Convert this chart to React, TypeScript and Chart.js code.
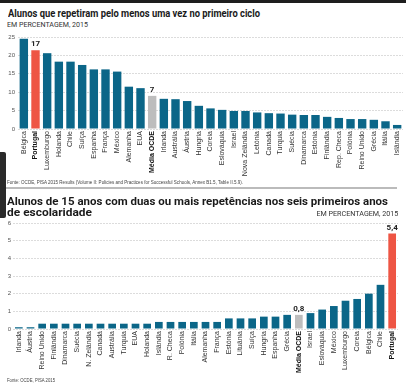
import React, { useEffect, useLayoutEffect, useRef } from "react";
import { Chart, registerables } from "chart.js";
Chart.register(...registerables);

// ---------- DATA ----------
const cats1 = ["Bélgica", "Portugal", "Luxemburgo", "Holanda", "Chile", "Suíça", "Espanha", "França", "México", "Alemanha", "EUA", "Média OCDE", "Irlanda", "Austrália", "Áustria", "Hungria", "Coreia", "Eslováquia", "Israel", "Nova Zelândia", "Letónia", "Canadá", "Turquia", "Suécia", "Dinamarca", "Estónia", "Finlândia", "Rep. Checa", "Polónia", "Reino Unido", "Grécia", "Itália", "Islândia"];
const vals1 = [24.5, 21.4, 20.6, 18.3, 18.3, 17.4, 16.2, 16.2, 15.6, 11.5, 11.1, 9.0, 8.2, 8.1, 7.6, 6.3, 5.6, 5.2, 4.9, 4.9, 4.5, 4.3, 4.2, 3.9, 3.8, 3.8, 3.3, 3.0, 2.7, 2.7, 2.5, 2.1, 1.1];
const ticks1 = [0, 5, 10, 15, 20, 25];
const annotCats1 = ["Portugal", "Média OCDE"];
const annotText1 = ["17", "7"];

const cats2 = ["Irlanda", "Áustria", "Reino Unido", "Finlândia", "Dinamarca", "Suécia", "N. Zelândia", "Canadá", "Austrália", "Turquia", "EUA", "Holanda", "Islândia", "R. Checa", "Polónia", "Itália", "Alemanha", "França", "Estónia", "Lituânia", "Suíça", "Hungria", "Espanha", "Grécia", "Média OCDE", "Israel", "Eslováquia", "México", "Luxemburgo", "Coreia", "Bélgica", "Chile", "Portugal"];
const vals2 = [0.1, 0.1, 0.3, 0.3, 0.3, 0.3, 0.3, 0.3, 0.3, 0.3, 0.3, 0.3, 0.4, 0.4, 0.4, 0.4, 0.4, 0.4, 0.6, 0.6, 0.6, 0.7, 0.7, 0.8, 0.8, 0.9, 1.1, 1.3, 1.6, 1.7, 2.0, 2.5, 5.4];
const ticks2 = [0, 1, 2, 3, 4, 5, 6];
const annotCats2 = ["Média OCDE", "Portugal"];
const annotText2 = ["0,8", "5,4"];

const highlightCats = ["Portugal", "Média OCDE"];

// ---------- STYLE ----------
const TEAL = "#0b6688";
const RED = "#ee5544";
const GREY = "#bdbdbd";
const LABEL_FONT = "'Liberation Sans', Arial, sans-serif";
const TITLE_FONT = "Roboto, 'Liberation Sans', sans-serif";

function barColor(c: string) {
  if (c === "Portugal") return RED;
  if (c === "Média OCDE") return GREY;
  return TEAL;
}

const annotPlugin = {
  id: "annot",
  afterDatasetsDraw(chart: any, _args: any, opts: any) {
    const { ctx } = chart;
    const meta = chart.getDatasetMeta(0);
    const labels: string[] = chart.data.labels;
    ctx.save();
    ctx.font = `bold ${opts.size || 8}px ${TITLE_FONT}`;
    ctx.fillStyle = "#222";
    ctx.textAlign = "center";
    ctx.textBaseline = "bottom";
    (opts.cats as string[]).forEach((c, k) => {
      const i = labels.indexOf(c);
      if (i < 0) return;
      const el = meta.data[i];
      ctx.fillText(opts.texts[k], el.x, el.y - 2);
    });
    ctx.restore();
  },
};

type BarProps = {
  cats: string[];
  vals: number[];
  ticks: number[];
  annotCats: string[];
  annotText: string[];
  width: number;
  height: number;
  top: number;
  padTop: number;
  padRight: number;
  yWidth: number;
  xHeight: number;
  barPct: number;
  yPad: number;
};

function BarChart(p: BarProps) {
  const ref = useRef<HTMLCanvasElement>(null);
  useEffect(() => {
    if (!ref.current) return;
    const chart = new Chart(ref.current, {
      type: "bar",
      data: {
        labels: p.cats,
        datasets: [
          {
            data: p.vals,
            backgroundColor: p.cats.map(barColor),
            barPercentage: p.barPct,
            categoryPercentage: 1,
            borderWidth: 0,
          },
        ],
      },
      plugins: [annotPlugin],
      options: {
        animation: false,
        responsive: false,
        layout: { padding: { top: p.padTop, right: p.padRight, left: 0, bottom: 0 } },
        plugins: {
          legend: { display: false },
          tooltip: { enabled: false },
          title: { display: false },
          annot: { cats: p.annotCats, texts: p.annotText, size: 8 },
        } as any,
        scales: {
          x: {
            grid: { display: false, drawTicks: false, tickLength: 0 },
            border: { display: false },
            ticks: {
              autoSkip: false,
              minRotation: 90,
              maxRotation: 90,
              padding: 2,
              color: (ctx: any) => (highlightCats.includes(p.cats[ctx.index]) ? "#111" : "#333"),
              font: (ctx: any) => ({
                family: LABEL_FONT,
                size: 7,
                weight: highlightCats.includes(p.cats[ctx.index]) ? "bold" : "normal",
              }),
            },
            afterFit: (s: any) => {
              s.height = p.xHeight;
              s.paddingLeft = 0;
              s.paddingRight = 0;
            },
          },
          y: {
            min: p.ticks[0],
            max: p.ticks[p.ticks.length - 1],
            afterBuildTicks: (s: any) => {
              s.ticks = p.ticks.map((v) => ({ value: v }));
            },
            grid: { color: "#dcdcdc", drawTicks: false, tickLength: 0, lineWidth: 1 },
            border: { display: false, dash: [2, 1] },
            ticks: {
              padding: p.yPad,
              color: "#555",
              font: { family: LABEL_FONT, size: 6 },
            },
            afterFit: (s: any) => {
              s.width = p.yWidth;
              s.paddingTop = 0;
              s.paddingBottom = 0;
            },
          },
        },
      } as any,
    });
    return () => chart.destroy();
  }, []);
  return (
    <canvas
      ref={ref}
      width={p.width}
      height={p.height}
      style={{ position: "absolute", left: 0, top: p.top, width: p.width, height: p.height }}
    />
  );
}

type TextProps = {
  text: string;
  x: number;
  baseline: number;
  size: number;
  width: number;
  weight?: string;
  color?: string;
  align?: "left" | "right";
  family?: string;
};

function FitText(t: TextProps) {
  const ref = useRef<HTMLSpanElement>(null);
  useLayoutEffect(() => {
    const el = ref.current;
    if (!el) return;
    const w = el.getBoundingClientRect().width;
    if (w > 0) el.style.transform = `scaleX(${t.width / w})`;
  }, []);
  const right = t.align === "right";
  return (
    <span
      ref={ref}
      style={{
        position: "absolute",
        display: "inline-block",
        left: right ? undefined : t.x,
        right: right ? 406 - t.x : undefined,
        top: t.baseline - 0.84 * t.size,
        fontSize: t.size,
        lineHeight: 1,
        fontWeight: (t.weight as any) || "normal",
        color: t.color || "#222",
        fontFamily: t.family || TITLE_FONT,
        whiteSpace: "nowrap",
        transformOrigin: right ? "right top" : "left top",
      }}
    >
      {t.text}
    </span>
  );
}

export default function App() {
  return (
    <div
      style={{
        position: "absolute",
        left: 0,
        top: 0,
        width: 406,
        height: 392,
        background: "#fff",
        overflow: "hidden",
      }}
    >
      <div style={{ position: "absolute", left: 0, top: 0, width: 406, height: 3, background: "#1e1e1e" }} />
      <FitText text="Alunos que repetiram pelo menos uma vez no primeiro ciclo" x={8} baseline={17.5} size={10.5} width={252} weight="bold" color="#1a1a1a" />
      <FitText text="EM PERCENTAGEM, 2015" x={7} baseline={27.5} size={6.5} width={81} color="#333" />

      <BarChart
        cats={cats1}
        vals={vals1}
        ticks={ticks1}
        annotCats={annotCats1}
        annotText={annotText1}
        width={406}
        height={152}
        top={30}
        padTop={7}
        padRight={3}
        yWidth={18}
        xHeight={53}
        barPct={0.72}
        yPad={3}
      />

      <FitText
        text="Fonte: OCDE, PISA 2015 Results (Volume II: Policies and Practices for Successful Schools, Annex B1.5, Table II.5.9)."
        x={7}
        baseline={184.5}
        size={4.5}
        width={236}
        color="#444"
        family={LABEL_FONT}
      />
      <div style={{ position: "absolute", left: 5, top: 187, width: 392, height: 1.5, background: "#bbb" }} />

      <FitText text="Alunos de 15 anos com duas ou mais repetências nos seis primeiros anos" x={7} baseline={205.7} size={11.5} width={381} weight="bold" color="#1a1a1a" />
      <FitText text="de escolaridade" x={7} baseline={216.7} size={11.5} width={85} weight="bold" color="#1a1a1a" />
      <FitText text="EM PERCENTAGEM, 2015" x={398} baseline={216.5} size={6.5} width={82} color="#333" align="right" />

      <BarChart
        cats={cats2}
        vals={vals2}
        ticks={ticks2}
        annotCats={annotCats2}
        annotText={annotText2}
        width={406}
        height={162}
        top={216}
        padTop={7}
        padRight={8}
        yWidth={13}
        xHeight={49}
        barPct={0.66}
        yPad={2}
      />

      <FitText text="Fonte: OCDE, PISA 2015" x={7} baseline={382.5} size={4.5} width={48} color="#444" family={LABEL_FONT} />

      <div
        style={{
          position: "absolute",
          left: 0,
          top: 152,
          width: 6,
          height: 66,
          background: "#2a2a2a",
          borderRadius: "0 2px 2px 0",
        }}
      />
    </div>
  );
}
